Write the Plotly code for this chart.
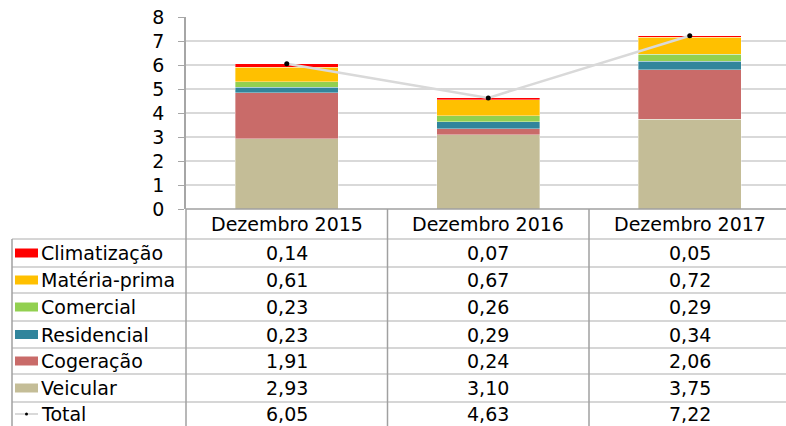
import plotly.graph_objects as go

W, H = 786, 426

categories = ["Dezembro 2015", "Dezembro 2016", "Dezembro 2017"]
series_names = ["Climatização", "Matéria-prima", "Comercial", "Residencial", "Cogeração", "Veicular"]
climatizacao = [0.14, 0.07, 0.05]
materia_prima = [0.61, 0.67, 0.72]
comercial = [0.23, 0.26, 0.29]
residencial = [0.23, 0.29, 0.34]
cogeracao = [1.91, 0.24, 2.06]
veicular = [2.93, 3.10, 3.75]
total = [6.05, 4.63, 7.22]
y_ticks = [0, 1, 2, 3, 4, 5, 6, 7, 8]

series_values = [climatizacao, materia_prima, comercial, residencial, cogeracao, veicular]
colors = ["#FF0000", "#FFC000", "#92D050", "#31859C", "#C96B69", "#C4BD97"]

FONT = "DejaVu Sans"
FS = 19


def px(x):
    return x / W


def py(y):
    return 1 - y / H


fig = go.Figure()

# stacked bars: bottom first
for name, vals, col in reversed(list(zip(series_names, series_values, colors))):
    fig.add_trace(go.Bar(x=categories, y=vals, name=name,
                         marker=dict(color=col, line=dict(width=0.6, color="rgba(255,255,255,0.6)")),
                         width=0.51))

fig.add_trace(go.Scatter(x=categories, y=total, name="Total", mode="lines+markers",
                         line=dict(color="#D9D9D9", width=2.5),
                         marker=dict(color="black", size=5)))

# layout of plot area
x_left, x_right = 186, W
y_top, y_zero = 17, 209
col_w = 201.5
rng_hi = -0.5 + (x_right - x_left) / col_w

fig.update_layout(
    width=W, height=H, margin=dict(l=0, r=0, t=0, b=0, autoexpand=False),
    barmode="stack", showlegend=False,
    plot_bgcolor="white", paper_bgcolor="white",
    font=dict(family=FONT, color="black"),
    xaxis=dict(domain=[px(x_left), 1], range=[-0.5, rng_hi], showticklabels=False,
               showgrid=False, zeroline=False, showline=False, type="category",
               categoryorder="array", categoryarray=categories, automargin=False),
    yaxis=dict(domain=[py(y_zero), py(y_top)], range=[0, 8], tickvals=y_ticks,
               showgrid=True, gridcolor="#D9D9D9", gridwidth=1.5, zeroline=False,
               showline=True, linecolor="#A6A6A6", linewidth=1.5,
               ticks="outside", ticklen=6, tickcolor="#A6A6A6", automargin=False,
               tickfont=dict(size=FS, family=FONT), ticklabelstandoff=10),
)

shapes = []
annotations = []

# table geometry
row_top = 239
row_bounds = [239, 267, 293, 321, 348, 374, 402, 426]
table_left = 12
hcol = "#C8C8C8"
vcol = "#A0A0A0"

# horizontal lines
shapes.append(dict(type="line", xref="paper", yref="paper", x0=px(x_left), x1=1,
                   y0=py(y_zero), y1=py(y_zero), line=dict(color=vcol, width=1.5)))
for yb in row_bounds[:-1]:
    shapes.append(dict(type="line", xref="paper", yref="paper", x0=px(table_left), x1=1,
                       y0=py(yb), y1=py(yb), line=dict(color=hcol, width=1.5)))
# vertical lines
shapes.append(dict(type="line", xref="paper", yref="paper", x0=px(table_left), x1=px(table_left),
                   y0=py(row_top), y1=0, line=dict(color=vcol, width=1.5)))
shapes.append(dict(type="line", xref="paper", yref="paper", x0=px(x_left), x1=px(x_left),
                   y0=py(y_zero), y1=0, line=dict(color=vcol, width=1.5)))
for b in [0.5, 1.5]:
    shapes.append(dict(type="line", xref="x", yref="paper", x0=b, x1=b,
                       y0=py(y_zero), y1=0, line=dict(color=vcol, width=1.5)))

# header
for c in categories:
    annotations.append(dict(x=c, xref="x", y=py((y_zero + row_top) / 2), yref="paper",
                            text=c, showarrow=False, font=dict(size=FS, family=FONT),
                            xanchor="center", yanchor="middle"))

row_names = series_names + ["Total"]
row_vals = series_values + [total]
for i, (name, vals) in enumerate(zip(row_names, row_vals)):
    yc = (row_bounds[i] + row_bounds[i + 1]) / 2
    if i < len(series_names):
        shapes.append(dict(type="rect", xref="paper", yref="paper", x0=px(15), x1=px(38),
                           y0=py(yc - 4.5), y1=py(yc + 4.5), fillcolor=colors[i],
                           line=dict(width=0)))
    else:
        shapes.append(dict(type="line", xref="paper", yref="paper", x0=px(15), x1=px(38),
                           y0=py(yc), y1=py(yc), line=dict(color="#D9D9D9", width=2)))
        shapes.append(dict(type="circle", xref="paper", yref="paper", x0=px(25), x1=px(28),
                           y0=py(yc - 1.5), y1=py(yc + 1.5), fillcolor="black",
                           line=dict(width=0)))
    annotations.append(dict(x=px(39), xref="paper", y=py(yc), yref="paper", text=name,
                            showarrow=False, xanchor="left", yanchor="middle",
                            font=dict(size=FS, family=FONT)))
    for c, v in zip(categories, vals):
        annotations.append(dict(x=c, xref="x", y=py(yc), yref="paper",
                                text=f"{v:.2f}".replace(".", ","), showarrow=False,
                                xanchor="center", yanchor="middle",
                                font=dict(size=FS, family=FONT)))

fig.update_layout(shapes=shapes, annotations=annotations)
fig.write_html("out.html", config={"displayModeBar": False},
               post_script="document.body.style.margin='0';document.body.style.overflow='hidden';")
